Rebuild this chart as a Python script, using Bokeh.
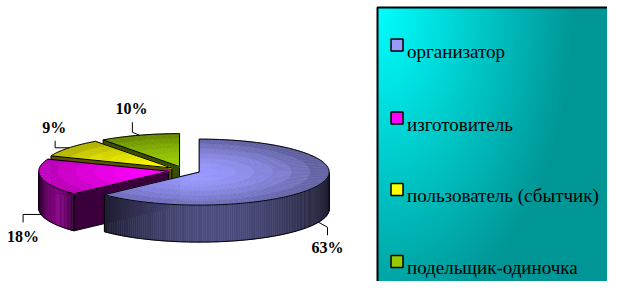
import math
import numpy as np
from bokeh.plotting import figure
from bokeh.models import Range1d
from bokeh.embed import file_html
from bokeh.resources import INLINE
from bokeh.core.properties import value

# ---------------- data ----------------
categories = ["организатор", "изготовитель", "пользователь (сбытчик)", "подельщик-одиночка"]
shares = [63, 18, 9, 10]
pct_labels = ["63%", "18%", "9%", "10%"]
colors = ["#9999FF", "#FF00FF", "#FFFF00", "#99CC00"]

# ---------------- layout / style ----------------
W, H = 607, 281
CX, CY = 184.0, 170.0        # pie centre (px, y down)
RX, RY = 130.0, 33.0         # top ellipse semi axes
DEPTH = 37.0                 # thickness
EXPLODE = 16.0
# leader line offsets (elbow, end, label) relative to slice edge point
LEADER = [
    ((9, 5), (9, 13), (0, 12)),
    ((-18, 0), (-18, 8), (0, 14)),
    ((-14, 0), (-14, -7), (-1, -13)),
    ((-7, -3), (-7, -13), (-1, -14)),
]
LEG_X0, LEG_Y0 = 377, 7
LEG_ITEM_Y = [44.5, 117.5, 189, 261]
FONT = "Liberation Serif"


def Y(y):
    return H - y


def hex_rgb(h):
    h = h.lstrip("#")
    return tuple(int(h[i:i + 2], 16) for i in (0, 2, 4))


def shade(h, f):
    r, g, b = hex_rgb(h)
    return "#%02x%02x%02x" % tuple(max(0, min(255, int(round(c * f)))) for c in (r, g, b))


p = figure(width=W, height=H, x_range=Range1d(0, W), y_range=Range1d(0, H),
           output_backend="svg", toolbar_location=None, x_axis_location=None, y_axis_location=None,
           min_border=0, outline_line_color=None)
p.grid.visible = False
p.background_fill_color = "white"
p.border_fill_color = "white"

# ---------------- legend background (gradient) ----------------
gw, gh = W - LEG_X0, H - LEG_Y0
yy, xx = np.mgrid[0:gh, 0:gw]
xn = xx / 246.0
yn = (gh - 1 - yy) / 290.0          # row 0 is bottom
t = np.clip(np.sqrt((xn / 0.8) ** 2 + (yn / 1.1) ** 2), 0, 1)
c0 = np.array([0, 255, 255])
c1 = np.array([0, 150, 150])
img = np.zeros((gh, gw), dtype=np.uint32)
view = img.view(dtype=np.uint8).reshape((gh, gw, 4))
for k in range(3):
    view[:, :, k] = (c0[k] * (1 - t) + c1[k] * t).astype(np.uint8)
view[:, :, 3] = 255
p.image_rgba(image=[img], x=LEG_X0, y=0, dw=gw, dh=gh)
p.line([LEG_X0, LEG_X0, W + 5], [Y(H + 5), Y(LEG_Y0), Y(LEG_Y0)], line_color="black", line_width=2)

# ---------------- pie geometry ----------------
total = float(sum(shares))
slices = []
cum = 0.0
for i, v in enumerate(shares):
    a0 = 90.0 - 360.0 * cum / total
    a1 = 90.0 - 360.0 * (cum + v) / total
    cum += v
    mid = math.radians((a0 + a1) / 2)
    scx = CX + EXPLODE * math.cos(mid)
    scy = CY - EXPLODE * (RY / RX) * math.sin(mid)
    slices.append(dict(i=i, a0=a0, a1=a1, mid=mid, cx=scx, cy=scy))


def edge(s, a_deg, r=1.0):
    a = math.radians(a_deg)
    return s["cx"] + r * RX * math.cos(a), s["cy"] - r * RY * math.sin(a)


NR = 7
order = sorted(slices, key=lambda s: s["cy"])
for s in order:
    col = colors[s["i"]]
    # radial faces
    for a_deg, side in ((s["a0"], 0), (s["a1"], 1)):
        c = math.cos(math.radians(a_deg))
        vis = c < -1e-6 if side == 0 else c > 1e-6
        if not vis:
            continue
        ex, ey = edge(s, a_deg)
        normal = math.radians(a_deg + (90 if side == 0 else -90))
        f = 0.3 + 0.1 * (-math.cos(normal))
        p.patch([s["cx"], ex, ex, s["cx"]], [Y(s["cy"]), Y(ey), Y(ey + DEPTH), Y(s["cy"] + DEPTH)],
                fill_color=shade(col, f), line_color="black", line_width=1)
    # curved side (front half only)
    n = max(2, int(abs(s["a0"] - s["a1"]) / 1.0))
    angs = np.linspace(s["a0"], s["a1"], n + 1)
    front = [a for a in angs if math.sin(math.radians(a)) < 1e-9]
    if len(front) >= 2:
        pts = [edge(s, a) for a in front]
        xs_all = [q[0] for q in pts]
        xmin, xmax = min(xs_all), max(xs_all)
        sx, sy, sc = [], [], []
        for k in range(len(pts) - 1):
            (x0, y0), (x1, y1) = pts[k], pts[k + 1]
            u = ((x0 + x1) / 2 - xmin) / max(1e-6, xmax - xmin)
            f = 0.2 + 0.3 * math.sin(math.pi * u)
            sx.append([x0, x1, x1, x0])
            sy.append([Y(y0), Y(y1), Y(y1 + DEPTH), Y(y0 + DEPTH)])
            sc.append(shade(col, f))
        p.patches(sx, sy, fill_color=sc, line_color=sc, line_width=0.6)
        ox = [pts[0][0]] + [q[0] for q in pts] + [pts[-1][0]]
        oy = [Y(pts[0][1])] + [Y(q[1] + DEPTH) for q in pts] + [Y(pts[-1][1])]
        p.line(ox, oy, line_color="black", line_width=1)
    # top face, shaded in cells
    na = max(2, int(abs(s["a0"] - s["a1"]) / 3.0))
    cang = np.linspace(s["a0"], s["a1"], na + 1)
    cx_, cy_, cc_ = [], [], []
    for k in range(na):
        for r in range(NR):
            r0, r1 = r / NR, (r + 1) / NR
            q = [edge(s, cang[k], r0), edge(s, cang[k + 1], r0), edge(s, cang[k + 1], r1), edge(s, cang[k], r1)]
            am = math.radians((cang[k] + cang[k + 1]) / 2)
            rm = (r0 + r1) / 2
            X = rm * math.cos(am)
            f = 1.0 - 0.28 * rm ** 2 - 0.12 * max(0.0, X) - 0.08 * max(0.0, rm * math.sin(am))
            cx_.append([a for a, b in q])
            cy_.append([Y(b) for a, b in q])
            cc_.append(shade(col, f))
    p.patches(cx_, cy_, fill_color=cc_, line_color=cc_, line_width=0.6)
    tx = [s["cx"]] + [edge(s, a)[0] for a in angs]
    ty = [Y(s["cy"])] + [Y(edge(s, a)[1]) for a in angs]
    p.patch(tx, ty, fill_color=None, line_color="black", line_width=1)

# ---------------- labels with leader lines ----------------
for s in slices:
    ex, ey = edge(s, math.degrees(s["mid"]))
    if math.sin(s["mid"]) < 0:
        ey += DEPTH
    (dx1, dy1), (dx2, dy2), (lx, ly) = LEADER[s["i"]]
    p.line([ex, ex + dx1, ex + dx2], [Y(ey), Y(ey + dy1), Y(ey + dy2)], line_color="black", line_width=1)
    p.text(x=[ex + dx2 + lx], y=[Y(ey + dy2 + ly)], text=[pct_labels[s["i"]]],
           text_font=value(FONT), text_font_style="bold", text_font_size="16px",
           text_align="center", text_baseline="middle", text_color="black")

# ---------------- legend items ----------------
for i, name in enumerate(categories):
    yc = LEG_ITEM_Y[i]
    p.rect(x=[396.5], y=[Y(yc)], width=12, height=12, fill_color=colors[i], line_color="black", line_width=1.5)
    p.text(x=[406.5], y=[Y(yc + 6)], text=[name], text_font=value(FONT), text_font_size="19px",
           text_align="left", text_baseline="alphabetic", text_color="black")

open("out.html", "w").write(file_html(p, INLINE))
